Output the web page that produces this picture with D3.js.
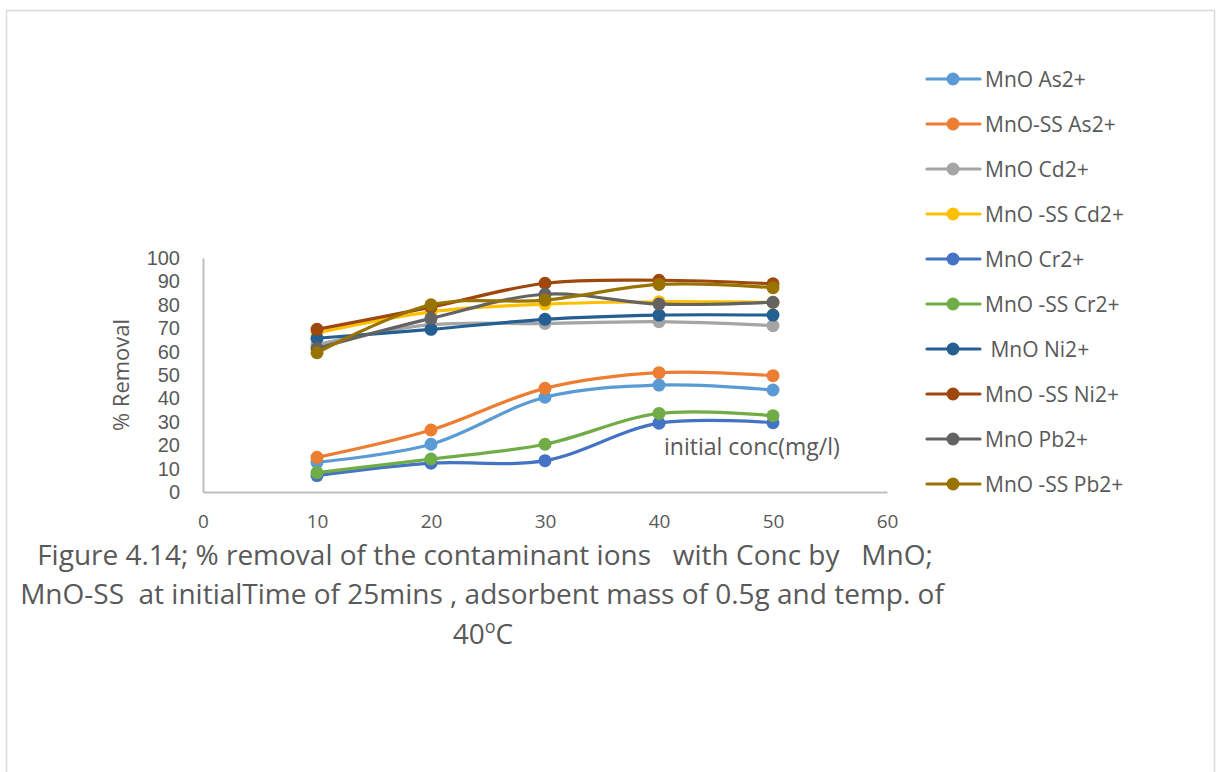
<!DOCTYPE html>
<html><head><meta charset="utf-8">
<script src="https://cdn.jsdelivr.net/npm/d3@7"></script>
<style>body{margin:0;background:#fff}svg{display:block}text{font-family:"Open Sans",sans-serif;fill:#595959}</style>
</head><body><svg id="c" width="1216" height="772"></svg>
<script>
const concs = [10, 20, 30, 40, 50];
const xTicks = [0, 10, 20, 30, 40, 50, 60];
const yTicks = [0, 10, 20, 30, 40, 50, 60, 70, 80, 90, 100];
const seriesNames = ["MnO As2+", "MnO-SS As2+", "MnO Cd2+", "MnO -SS Cd2+", "MnO Cr2+", "MnO -SS Cr2+", " MnO Ni2+", "MnO -SS Ni2+", "MnO Pb2+", "MnO -SS Pb2+"];
const seriesColors = ["#5B9BD5", "#ED7D31", "#A5A5A5", "#FFC000", "#4472C4", "#70AD47", "#255E91", "#9E480E", "#636363", "#997300"];
const asMnO = [12.7, 20.4, 40.5, 45.7, 43.6];
const asMnOSS = [14.8, 26.5, 44.3, 51.0, 49.7];
const cdMnO = [63.0, 71.5, 72.0, 72.8, 71.1];
const cdMnOSS = [68.0, 77.0, 80.3, 81.3, 81.0];
const crMnO = [7.0, 12.3, 13.4, 29.4, 29.6];
const crMnOSS = [8.3, 14.1, 20.4, 33.6, 32.6];
const niMnO = [65.7, 69.5, 73.8, 75.6, 75.6];
const niMnOSS = [69.5, 79.0, 89.2, 90.5, 89.0];
const pbMnO = [61.4, 74.2, 84.5, 80.3, 81.1];
const pbMnOSS = [59.5, 80.0, 82.0, 88.7, 87.3];
const seriesValues = [asMnO, asMnOSS, cdMnO, cdMnOSS, crMnO, crMnOSS, niMnO, niMnOSS, pbMnO, pbMnOSS];

const svg = d3.select("#c");
// outer frame
svg.append("path").attr("d", "M6.5,772 V10.5 H1214.5 V772").attr("fill", "none").attr("stroke", "#d9d9d9").attr("stroke-width", 1.5);

const x = d3.scaleLinear().domain([0, 60]).range([203, 887]);
const y = d3.scaleLinear().domain([0, 100]).range([492, 258]);

// axes
const gx = svg.append("g").attr("transform", "translate(0,492)")
  .call(d3.axisBottom(x).tickValues(xTicks).tickSize(0).tickPadding(23).tickFormat(d3.format("d")));
gx.select(".domain").attr("stroke", "#bfbfbf").attr("stroke-width", 2);
gx.selectAll("text").style("font-size", "19px").attr("fill", "#595959");

const gy = svg.append("g").attr("transform", "translate(203,0)")
  .call(d3.axisLeft(y).tickValues(yTicks).tickSize(0).tickPadding(23).tickFormat(d3.format("d")));
gy.select(".domain").attr("stroke", "#bfbfbf").attr("stroke-width", 2);
gy.selectAll("text").style("font-size", "20px").style("font-family", "'Liberation Sans', Arial, sans-serif").attr("fill", "#595959");

// y label
svg.append("text").attr("transform", "translate(129,375) rotate(-90)")
  .attr("text-anchor", "middle").style("font-size", "22px").text("% Removal");

const line = d3.line().x((d, i) => x(concs[i])).y(d => y(d)).curve(d3.curveCatmullRom.alpha(0.5));

seriesValues.forEach((vals, k) => {
  const g = svg.append("g");
  g.append("path").datum(vals).attr("d", line).attr("fill", "none")
    .attr("stroke", seriesColors[k]).attr("stroke-width", 3.2).attr("stroke-linecap", "round");
  g.selectAll("circle").data(vals).join("circle")
    .attr("cx", (d, i) => x(concs[i])).attr("cy", d => y(d)).attr("r", 6.5)
    .attr("fill", seriesColors[k]);
});

// x axis title placed inside plot
svg.append("text").attr("x", 664).attr("y", 455).style("font-size", "23px").text("initial conc(mg/l)");

// legend
const lg = svg.append("g");
seriesNames.forEach((n, k) => {
  const yy = 79 + k * 45;
  lg.append("line").attr("x1", 927).attr("x2", 980).attr("y1", yy).attr("y2", yy)
    .attr("stroke", seriesColors[k]).attr("stroke-width", 3.2).attr("stroke-linecap", "round");
  lg.append("circle").attr("cx", 953).attr("cy", yy).attr("r", 6.5).attr("fill", seriesColors[k]);
  lg.append("text").attr("x", 985).attr("y", yy + 7.5).style("font-size", "21px")
    .style("white-space", "pre").attr("xml:space", "preserve").text(n);
});

// caption
const cap = svg.append("g").style("font-size", "28px");
cap.append("text").attr("x", 485).attr("y", 565).attr("text-anchor", "middle").style("white-space", "pre")
  .text("Figure 4.14; % removal of the contaminant ions   with Conc by   MnO;");
cap.append("text").attr("x", 482).attr("y", 604).attr("text-anchor", "middle").style("white-space", "pre")
  .text("MnO-SS  at initialTime of 25mins , adsorbent mass of 0.5g and temp. of");
const t3 = cap.append("text").attr("x", 483).attr("y", 644).attr("text-anchor", "middle");
t3.append("tspan").text("40");
t3.append("tspan").attr("dy", -11).style("font-size", "18px").text("o");
t3.append("tspan").attr("dy", 11).text("C");
</script></body></html>
